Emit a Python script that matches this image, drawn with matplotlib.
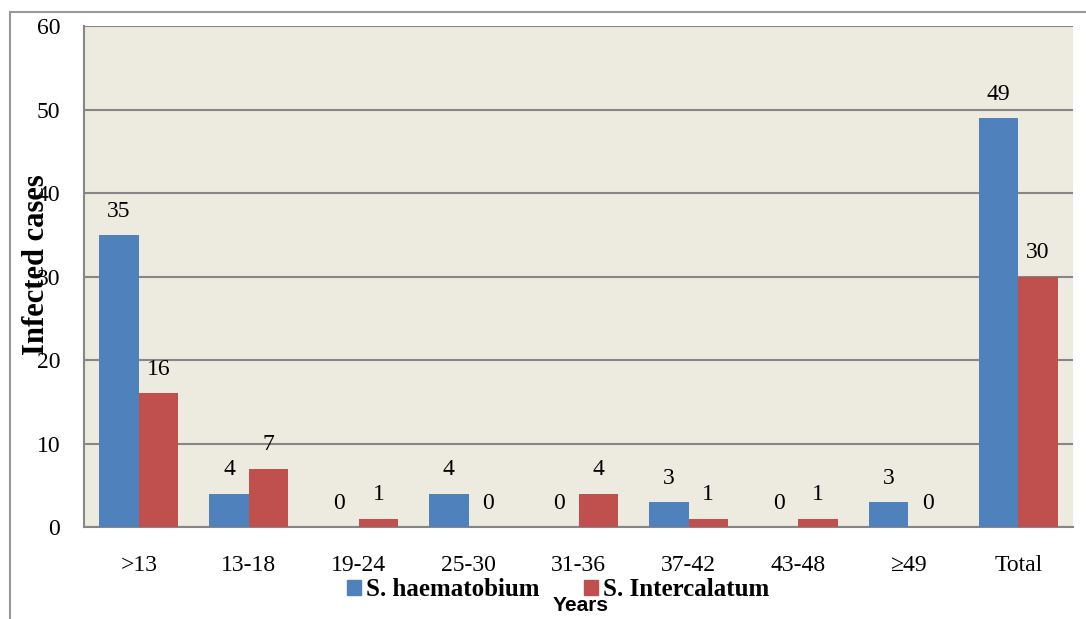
import matplotlib.pyplot as plt
import numpy as np
from matplotlib.lines import Line2D
from matplotlib.patches import Patch

categories = ['>13', '13-18', '19-24', '25-30', '31-36', '37-42', '43-48', '\u226549', 'Total']
haematobium = [35, 4, 0, 4, 0, 3, 0, 3, 49]
intercalatum = [16, 7, 1, 0, 4, 1, 1, 0, 30]
yticks = [0, 10, 20, 30, 40, 50, 60]

blue = '#4F81BD'
red = '#C0504D'
grid = '#868686'
serif = ['Liberation Serif', 'DejaVu Serif']

fig = plt.figure(figsize=(10.86, 6.19), dpi=100)
ax = fig.add_axes([0.0773, 0.1486, 0.911, 0.809])
ax.set_facecolor('#EDEAE0')

x = np.arange(len(categories))
w = 0.36
b1 = ax.bar(x - w / 2, haematobium, w, color=blue, zorder=3)
b2 = ax.bar(x + w / 2, intercalatum, w, color=red, zorder=3)

for bars, vals in ((b1, haematobium), (b2, intercalatum)):
    for b, v in zip(bars, vals):
        ax.text(b.get_x() + b.get_width() / 2, v + 1.6, str(v), ha='center', va='bottom',
                fontsize=17, family=serif)

ax.set_xlim(-0.5, len(categories) - 0.5)
ax.set_ylim(0, 60)
ax.set_yticks(yticks)
ax.set_yticklabels([str(t) for t in yticks], family=serif, fontsize=17)
ax.set_xticks(x)
ax.set_xticklabels(categories, family=serif, fontsize=17)
ax.tick_params(axis='both', length=0)
ax.tick_params(axis='y', pad=17)
ax.tick_params(axis='x', pad=20)
ax.yaxis.grid(True, color=grid, linewidth=1.5, zorder=0)
ax.set_axisbelow(True)
for s in ['top', 'right']:
    ax.spines[s].set_visible(False)
for s in ['left', 'bottom']:
    ax.spines[s].set_color(grid)
    ax.spines[s].set_linewidth(1.5)

fig.text(0.034, 0.572, 'Infected cases', rotation=90, ha='center', va='center',
         fontsize=22, fontweight='bold', family=serif)
fig.text(0.535, 0.022, 'Years', ha='center', va='center', fontsize=15,
         fontweight='bold', family=['Liberation Sans', 'DejaVu Sans'])

handles = [Patch(color=blue, label='S. haematobium'), Patch(color=red, label='S. Intercalatum')]
fig.legend(handles=handles, loc='center', bbox_to_anchor=(0.514, 0.047), ncol=2, frameon=False,
           prop={'family': serif, 'weight': 'bold', 'size': 18}, handlelength=0.55,
           handleheight=0.55, handletextpad=0.2, columnspacing=1.8)

fig.add_artist(Line2D([0.0092, 0.0092], [0, 0.981], color='#999999', linewidth=1.5))
fig.add_artist(Line2D([0.0092, 1.0], [0.981, 0.981], color='#999999', linewidth=1.5))

fig.savefig('out.png', dpi=100)
